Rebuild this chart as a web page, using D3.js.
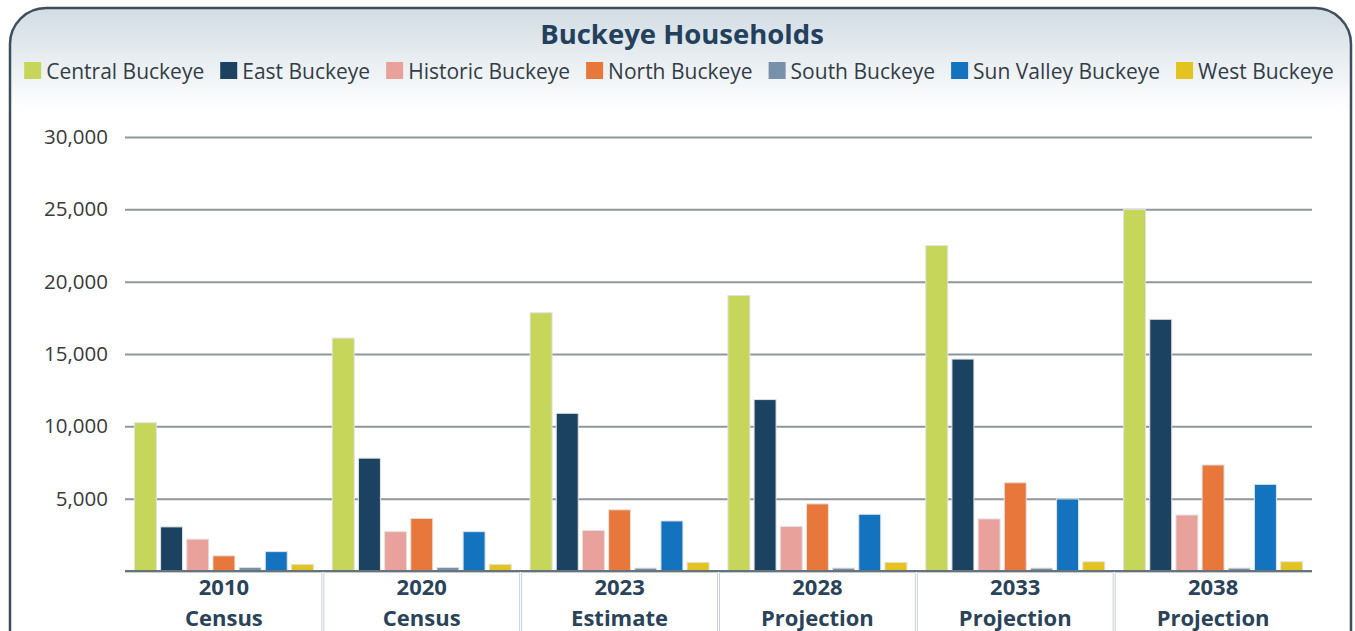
<!DOCTYPE html>
<html lang="en">
<head>
<meta charset="UTF-8">
<title>Buckeye Households</title>
<script src="https://d3js.org/d3.v7.min.js"></script>
<style>
  body { margin: 0; background: #fff; }
  svg { display: block; }
  text { font-family: "Open Sans", sans-serif; }
</style>
</head>
<body>
<svg width="1355" height="631"></svg>
<script>
// data
const years = ['2010', '2020', '2023', '2028', '2033', '2038'];
const yearKinds = ['Census', 'Census', 'Estimate', 'Projection', 'Projection', 'Projection'];
const seriesNames = ['Central Buckeye', 'East Buckeye', 'Historic Buckeye', 'North Buckeye',
    'South Buckeye', 'Sun Valley Buckeye', 'West Buckeye'];
const central   = [10250, 16100, 17850, 19050, 22500, 25000];
const east      = [3050, 7800, 10900, 11850, 14650, 17400];
const historic  = [2200, 2720, 2800, 3080, 3600, 3870];
const north     = [1050, 3640, 4230, 4640, 6100, 7330];
const south     = [250, 250, 200, 200, 200, 200];
const sunValley = [1340, 2720, 3460, 3920, 4980, 5990];
const west      = [460, 460, 600, 600, 640, 640];
const yTicks = [0, 5000, 10000, 15000, 20000, 25000, 30000];

const colors = ['#c6d65b', '#1c4262', '#e9a19c', '#e8773b', '#7891ab', '#1473be', '#e3c31f'];
const seriesValues = [central, east, historic, north, south, sunValley, west];

const svg = d3.select('svg');

// frame with the light header gradient
const defs = svg.append('defs');
const grad = defs.append('linearGradient')
    .attr('id', 'head')
    .attr('gradientUnits', 'userSpaceOnUse')
    .attr('x1', 0).attr('y1', 8).attr('x2', 0).attr('y2', 110);
grad.append('stop').attr('offset', 0).attr('stop-color', '#d1dce3');
grad.append('stop').attr('offset', 1).attr('stop-color', '#ffffff');

svg.append('rect')
    .attr('x', 10).attr('y', 8)
    .attr('width', 1341).attr('height', 720)
    .attr('rx', 36).attr('ry', 36)
    .attr('fill', 'url(#head)')
    .attr('stroke', '#3e4e5b')
    .attr('stroke-width', 2.5);

// title
svg.append('text')
    .attr('x', 682).attr('y', 44)
    .attr('text-anchor', 'middle')
    .attr('font-size', 27.5)
    .attr('font-weight', 700)
    .attr('fill', '#23405d')
    .text('Buckeye Households');

// legend, measured then centred
const legend = svg.append('g');
const items = legend.selectAll('g')
    .data(seriesNames)
    .enter().append('g');
items.append('rect')
    .attr('width', 17).attr('height', 17)
    .attr('y', 62)
    .attr('fill', (d, i) => colors[i]);
items.append('text')
    .attr('x', 22).attr('y', 79)
    .attr('font-size', 21)
    .attr('fill', '#333d47')
    .text(d => d);
let lx = 0;
items.each(function () {
    const w = d3.select(this).select('text').node().getComputedTextLength();
    d3.select(this).attr('transform', `translate(${lx},0)`);
    lx += 22 + w + 16;
});
lx -= 16;
legend.attr('transform', `translate(${679 - lx / 2},0)`);

// scales
const x0 = d3.scaleBand().domain(years).range([125, 1312]);
const x1 = d3.scaleBand().domain(seriesNames).range([0, x0.bandwidth()])
    .paddingInner(0.16).paddingOuter(0.36);
const y = d3.scaleLinear().domain([0, 30000]).range([571, 137]);

// grid lines + labels
const yAxis = svg.append('g')
    .attr('transform', 'translate(125,0)')
    .call(d3.axisLeft(y).tickValues(yTicks).tickSize(-(1312 - 125)).tickPadding(17)
        .tickFormat(d => d === 0 ? '' : d3.format(',')(d)));
yAxis.select('.domain').remove();
yAxis.selectAll('.tick line')
    .attr('stroke', '#8e979e')
    .attr('stroke-width', 2);
yAxis.selectAll('.tick text')
    .attr('font-size', 20.5)
    .attr('fill', '#3a3a3a')
    .attr('font-family', '"Open Sans", sans-serif');

// bars
const groups = svg.append('g').selectAll('g')
    .data(years)
    .enter().append('g')
    .attr('transform', d => `translate(${x0(d)},0)`);
groups.selectAll('rect')
    .data((d, yi) => seriesNames.map((s, si) => ({ s, si, v: seriesValues[si][yi] })))
    .enter().append('rect')
    .attr('x', d => x1(d.s))
    .attr('y', d => y(d.v))
    .attr('width', x1.bandwidth())
    .attr('height', d => y(0) - y(d.v))
    .attr('fill', d => colors[d.si])
    .attr('stroke', '#e2e2e2')
    .attr('stroke-width', 1);

// baseline
svg.append('line')
    .attr('x1', 125).attr('x2', 1312)
    .attr('y1', y(0)).attr('y2', y(0))
    .attr('stroke', '#66727c')
    .attr('stroke-width', 2);

// separators between categories (double light line)
svg.append('g').selectAll('line')
    .data(years.slice(1))
    .enter().append('line')
    .attr('x1', d => x0(d)).attr('x2', d => x0(d))
    .attr('y1', y(0) + 1).attr('y2', 631)
    .attr('stroke', '#c9d2d9')
    .attr('stroke-width', 3);
svg.append('g').selectAll('line')
    .data(years.slice(1))
    .enter().append('line')
    .attr('x1', d => x0(d)).attr('x2', d => x0(d))
    .attr('y1', y(0) + 1).attr('y2', 631)
    .attr('stroke', '#ffffff')
    .attr('stroke-width', 1);

// category labels, two lines each
const cx = d => x0(d) + x0.bandwidth() / 2;
svg.append('g').selectAll('text')
    .data(years)
    .enter().append('text')
    .attr('x', cx).attr('y', 595)
    .attr('text-anchor', 'middle')
    .attr('font-size', 22)
    .attr('font-weight', 700)
    .attr('fill', '#2a4359')
    .text(d => d);
svg.append('g').selectAll('text')
    .data(years)
    .enter().append('text')
    .attr('x', cx).attr('y', 626)
    .attr('text-anchor', 'middle')
    .attr('font-size', 22)
    .attr('font-weight', 700)
    .attr('fill', '#2a4359')
    .text((d, i) => yearKinds[i]);
</script>
</body>
</html>
